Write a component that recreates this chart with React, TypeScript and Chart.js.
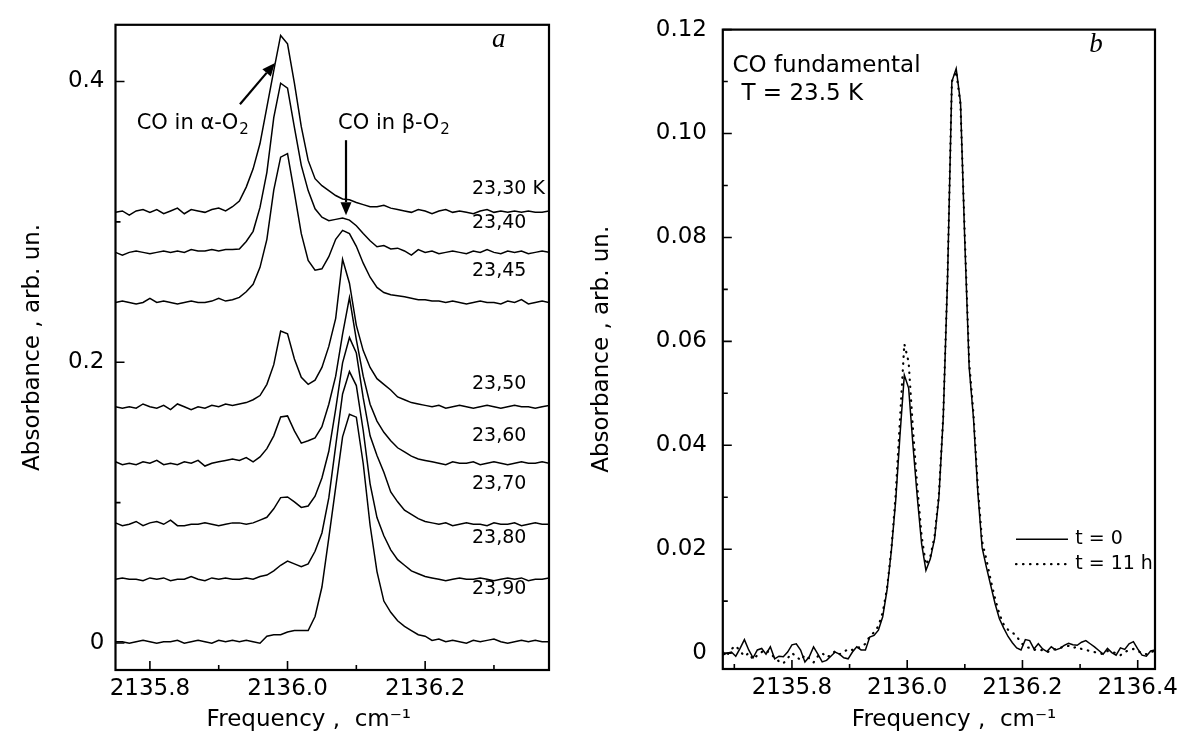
import React, { useEffect, useRef } from 'react';
import { Chart, registerables } from 'chart.js';
Chart.register(...registerables);

const SANS = "'DejaVu Sans', sans-serif";
const SERIF = "'Liberation Serif', 'DejaVu Serif', serif";

// ---------- Panel a : stacked spectra ----------
const freqA = [
  2135.75, 2135.76, 2135.77, 2135.78, 2135.79, 2135.80, 2135.81, 2135.82, 2135.83, 2135.84,
  2135.85, 2135.86, 2135.87, 2135.88, 2135.89, 2135.90, 2135.91, 2135.92, 2135.93, 2135.94,
  2135.95, 2135.96, 2135.97, 2135.98, 2135.99, 2136.00, 2136.01, 2136.02, 2136.03, 2136.04,
  2136.05, 2136.06, 2136.07, 2136.08, 2136.09, 2136.10, 2136.11, 2136.12, 2136.13, 2136.14,
  2136.15, 2136.16, 2136.17, 2136.18, 2136.19, 2136.20, 2136.21, 2136.22, 2136.23, 2136.24,
  2136.25, 2136.26, 2136.27, 2136.28, 2136.29, 2136.30, 2136.31, 2136.32, 2136.33, 2136.34,
  2136.35, 2136.36, 2136.37, 2136.38,
];

const temperatureLabels = ['23,30 K', '23,40', '23,45', '23,50', '23,60', '23,70', '23,80', '23,90'];
const baselineOffsets = [0.3068, 0.2783, 0.2426, 0.1683, 0.1281, 0.0846, 0.0454, 0.0009];
// label anchor heights (absorbance units) for the temperature captions
const temperatureLabelY = [0.3237, 0.2995, 0.2652, 0.1847, 0.1476, 0.1134, 0.0749, 0.0385];

const spec2330 = [
  0.000, 0.001, -0.002, 0.001, 0.002, 0.000, 0.002, -0.001, 0.001, 0.003, -0.001, 0.002, 0.001, 0.000, 0.002, 0.003, 0.001, 0.004,
  0.008, 0.018, 0.031, 0.049, 0.075, 0.101, 0.126, 0.120, 0.092, 0.061, 0.037, 0.024, 0.019, 0.0155, 0.012, 0.0095, 0.009, 0.007, 0.0055, 0.004, 0.004, 0.005, 0.003, 0.002,
  0.001, 0.000, 0.002, 0.001, -0.001, 0.001, 0.002, 0.000, 0.001, 0.000, -0.001, 0.001, 0.002, 0.000, 0.001, 0.000, 0.001, 0.000, 0.001, 0.000, 0.000, 0.001,
];
const spec2340 = [
  0.000, -0.002, 0.000, 0.001, 0.000, -0.001, 0.000, 0.001, 0.000, 0.001, 0.000, 0.002, 0.001, 0.001, 0.002, 0.001, 0.002, 0.002,
  0.0024, 0.0078, 0.015, 0.032, 0.057, 0.096, 0.1205, 0.117, 0.089, 0.062, 0.044, 0.031, 0.025, 0.0226, 0.0235, 0.0245, 0.023, 0.019, 0.0135, 0.0083, 0.004, 0.0048, 0.0024, 0.003,
  0.001, -0.002, 0.002, 0.000, 0.001, -0.001, 0.000, 0.001, 0.000, -0.001, 0.001, 0.000, 0.002, 0.000, -0.001, 0.001, 0.000, 0.001, -0.001, 0.000, 0.001, 0.000,
];
const spec2345 = [
  0.000, 0.001, 0.000, -0.001, 0.000, 0.003, 0.000, 0.001, 0.000, -0.001, 0.000, 0.001, 0.000, 0.000, 0.001, 0.003, 0.001, 0.002,
  0.0036, 0.0076, 0.013, 0.025, 0.045, 0.080, 0.1035, 0.106, 0.078, 0.049, 0.030, 0.023, 0.024, 0.0326, 0.045, 0.0514, 0.049, 0.040, 0.028, 0.018, 0.0107, 0.0071, 0.0055, 0.0048,
  0.004, 0.003, 0.002, 0.002, 0.001, 0.001, 0.000, 0.001, 0.000, -0.001, 0.000, 0.001, 0.000, 0.000, -0.001, 0.001, 0.000, 0.002, -0.001, 0.000, 0.001, 0.000,
];
const spec2350 = [
  0.000, -0.001, 0.000, -0.001, 0.002, 0.000, -0.001, 0.001, -0.002, 0.002, 0.000, -0.002, 0.000, -0.001, 0.001, 0.000, 0.002, 0.001,
  0.002, 0.003, 0.005, 0.008, 0.016, 0.030, 0.054, 0.052, 0.034, 0.021, 0.016, 0.019, 0.028, 0.043, 0.063, 0.105, 0.088, 0.058, 0.040, 0.028, 0.020, 0.016, 0.012, 0.007, 0.005, 0.003, 0.002, 0.001,
  0.000, 0.001, -0.001, 0.000, 0.001, 0.000, -0.001, 0.000, 0.001, 0.000, -0.001, 0.000, 0.001, 0.000, 0.000, -0.001, 0.000, 0.001,
];
const spec2360 = [
  0.001, -0.001, 0.000, -0.001, 0.001, 0.000, 0.002, -0.001, 0.000, -0.001, 0.001, 0.000, 0.002, -0.002, 0.000, 0.001, 0.002, 0.003,
  0.002, 0.004, 0.001, 0.0045, 0.0104, 0.0195, 0.033, 0.0337, 0.023, 0.0143, 0.016, 0.018, 0.026, 0.042, 0.062, 0.092, 0.118, 0.088, 0.062, 0.042, 0.030, 0.022, 0.016, 0.011, 0.008, 0.005, 0.003, 0.002,
  0.001, 0.000, -0.001, 0.001, 0.000, 0.000, 0.001, -0.001, 0.000, 0.001, 0.000, -0.001, 0.000, 0.001, 0.000, 0.000, 0.001, 0.000,
];
const spec2370 = [
  0.001, -0.001, 0.000, 0.002, -0.001, 0.001, 0.002, 0.000, 0.003, -0.001, -0.001, 0.000, 0.000, 0.001, 0.000, -0.001, 0.000, 0.001,
  0.001, 0.000, 0.001, 0.003, 0.005, 0.011, 0.019, 0.0195, 0.016, 0.012, 0.013, 0.020, 0.033, 0.052, 0.082, 0.115, 0.133, 0.122, 0.090, 0.063, 0.049, 0.037, 0.023, 0.016, 0.010, 0.007, 0.004, 0.002,
  0.001, 0.000, 0.001, -0.001, 0.000, 0.001, 0.000, 0.000, -0.001, 0.001, 0.000, 0.000, 0.001, -0.001, 0.000, 0.001, 0.000, 0.000,
];
const spec2380 = [
  0.000, 0.001, 0.000, 0.000, -0.001, 0.001, 0.000, 0.001, -0.001, 0.000, 0.000, 0.002, 0.000, -0.001, 0.001, 0.000, 0.001, 0.000,
  0.000, 0.001, 0.000, 0.002, 0.003, 0.006, 0.010, 0.013, 0.011, 0.009, 0.011, 0.020, 0.033, 0.058, 0.095, 0.132, 0.148, 0.138, 0.106, 0.068, 0.044, 0.031, 0.021, 0.014, 0.010, 0.006, 0.004, 0.002,
  0.001, 0.000, -0.001, 0.000, 0.001, 0.000, 0.000, 0.001, 0.000, -0.001, 0.000, 0.001, 0.000, 0.001, -0.001, 0.000, 0.000, 0.001,
];
const spec2390 = [
  0.000, 0.000, -0.001, 0.000, 0.001, 0.000, -0.001, 0.000, 0.000, 0.001, -0.001, 0.000, 0.001, 0.000, -0.001, 0.001, 0.000, 0.001,
  0.000, 0.001, 0.000, -0.001, 0.004, 0.005, 0.005, 0.007, 0.008, 0.008, 0.008, 0.018, 0.039, 0.074, 0.110, 0.146, 0.162, 0.160, 0.127, 0.083, 0.050, 0.029, 0.021, 0.015, 0.011, 0.008, 0.005, 0.004,
  0.001, 0.002, 0.000, 0.001, 0.000, -0.001, 0.001, 0.000, 0.001, 0.002, 0.000, -0.001, 0.000, 0.001, 0.000, 0.001, 0.000, 0.000,
];
const spectraA = [spec2330, spec2340, spec2345, spec2350, spec2360, spec2370, spec2380, spec2390];

const xMajorA = [2135.8, 2136.0, 2136.2];
const xMajorLabelsA = ['2135.8', '2136.0', '2136.2'];
const xMinorA = [2135.9, 2136.1, 2136.3];
const yMajorA = [0, 0.2, 0.4];
const yMajorLabelsA = ['0', '0.2', '0.4'];
const yMinorA = [0.1, 0.3];

// ---------- Panel b : two measurements ----------
const freqB = [
  2135.6800, 2135.6875, 2135.6950, 2135.7025, 2135.7100, 2135.7175, 2135.7250, 2135.7325, 2135.7400, 2135.7475,
  2135.7550, 2135.7625, 2135.7700, 2135.7775, 2135.7850, 2135.7925, 2135.8000, 2135.8075, 2135.8150, 2135.8225,
  2135.8300, 2135.8375, 2135.8450, 2135.8525, 2135.8600, 2135.8675, 2135.8750, 2135.8825, 2135.8900, 2135.8975,
  2135.9050, 2135.9125, 2135.9200, 2135.9275, 2135.9350, 2135.9425, 2135.9500, 2135.9575, 2135.9650, 2135.9725,
  2135.9800, 2135.9875, 2135.9950, 2136.0025, 2136.0100, 2136.0175, 2136.0250, 2136.0325, 2136.0400, 2136.0475,
  2136.0550, 2136.0625, 2136.0700, 2136.0775, 2136.0850, 2136.0925, 2136.1000, 2136.1075, 2136.1150, 2136.1225,
  2136.1300, 2136.1375, 2136.1450, 2136.1525, 2136.1600, 2136.1675, 2136.1750, 2136.1825, 2136.1900, 2136.1975,
  2136.2050, 2136.2125, 2136.2200, 2136.2275, 2136.2350, 2136.2425, 2136.2500, 2136.2575, 2136.2650, 2136.2725,
  2136.2800, 2136.2875, 2136.2950, 2136.3025, 2136.3100, 2136.3175, 2136.3250, 2136.3325, 2136.3400, 2136.3475,
  2136.3550, 2136.3625, 2136.3700, 2136.3775, 2136.3850, 2136.3925, 2136.4000, 2136.4075, 2136.4150, 2136.4225,
  2136.4300,
];
const absT0 = [
  -0.0004, 0.0000, 0.0002, -0.0006, 0.0009, 0.0026, 0.0006, -0.0009, 0.0006, 0.0009,
  -0.0002, 0.0012, -0.0011, -0.0006, -0.0007, 0.0002, 0.0016, 0.0018, 0.0006, -0.0017,
  -0.0007, 0.0012, -0.0002, -0.0017, -0.0014, -0.0006, 0.0002, -0.0002, -0.0009, -0.0011,
  0.0002, 0.0012, 0.0006, 0.0006, 0.0031, 0.0034, 0.0044, 0.0070, 0.0121, 0.0197,
  0.0293, 0.0420, 0.0535, 0.0510, 0.0400, 0.0300, 0.0210, 0.0159, 0.0181, 0.0220,
  0.0300, 0.0452, 0.0720, 0.1100, 0.1125, 0.1060, 0.0790, 0.0550, 0.0452, 0.0310,
  0.0203, 0.0165, 0.0130, 0.0095, 0.0066, 0.0048, 0.0032, 0.0020, 0.0010, 0.0006,
  0.0026, 0.0024, 0.0008, 0.0018, 0.0008, 0.0003, 0.0012, 0.0006, 0.0009, 0.0015,
  0.0019, 0.0016, 0.0015, 0.0021, 0.0024, 0.0018, 0.0012, 0.0005, -0.0002, 0.0009,
  0.0001, -0.0004, 0.0010, 0.0007, 0.0018, 0.0022, 0.0008, -0.0004, -0.0006, 0.0004,
  0.0006,
];
const absT11 = [
  0.0002, -0.0004, 0.0008, 0.0014, 0.0004, -0.0006, 0.0000, -0.0012, -0.0004, 0.0002,
  0.0006, -0.0002, -0.0008, -0.0016, -0.0020, -0.0010, 0.0000, -0.0006, -0.0014, -0.0004,
  -0.0010, -0.0018, -0.0006, 0.0000, -0.0008, -0.0004, 0.0004, -0.0002, 0.0002, 0.0008,
  0.0006, 0.0010, 0.0012, 0.0018, 0.0032, 0.0040, 0.0052, 0.0078, 0.0125, 0.0200,
  0.0305, 0.0450, 0.0595, 0.0560, 0.0430, 0.0320, 0.0225, 0.0170, 0.0185, 0.0225,
  0.0305, 0.0455, 0.0725, 0.1100, 0.1120, 0.1055, 0.0800, 0.0560, 0.0460, 0.0320,
  0.0215, 0.0180, 0.0140, 0.0105, 0.0075, 0.0055, 0.0045, 0.0040, 0.0032, 0.0020,
  0.0012, 0.0010, 0.0006, 0.0008, 0.0005, 0.0002, 0.0004, 0.0008, 0.0010, 0.0012,
  0.0014, 0.0010, 0.0012, 0.0008, 0.0006, 0.0004, 0.0002, 0.0000, -0.0002, 0.0004,
  0.0002, 0.0000, -0.0004, 0.0002, 0.0006, 0.0008, 0.0004, 0.0000, -0.0002, 0.0002,
  0.0004,
];
const seriesNamesB = ['t = 0', 't = 11 h'];

const xMajorB = [2135.8, 2136.0, 2136.2, 2136.4];
const xMajorLabelsB = ['2135.8', '2136.0', '2136.2', '2136.4'];
const xMinorB = [2135.7, 2135.9, 2136.1, 2136.3];
const yMajorB = [0, 0.02, 0.04, 0.06, 0.08, 0.10, 0.12];
const yMajorLabelsB = ['0', '0.02', '0.04', '0.06', '0.08', '0.10', '0.12'];
const yMinorB = [0.01, 0.03, 0.05, 0.07, 0.09, 0.11];

// ---------- plugins ----------
const frameTicks = {
  id: 'frameTicks',
  afterDraw(chart: any, _a: any, opts: any) {
    const { ctx, chartArea: a } = chart;
    const xs = chart.scales.x;
    const ys = chart.scales.y;
    ctx.save();
    ctx.strokeStyle = '#000';
    ctx.lineWidth = 1.6;
    ctx.beginPath();
    const xt = (vals: number[], len: number) => vals.forEach((v) => {
      const p = xs.getPixelForValue(v);
      ctx.moveTo(p, a.bottom); ctx.lineTo(p, a.bottom - len);
    });
    const yt = (vals: number[], len: number) => vals.forEach((v) => {
      const p = ys.getPixelForValue(v);
      ctx.moveTo(a.left, p); ctx.lineTo(a.left + len, p);
    });
    xt(opts.xMajor, 9); xt(opts.xMinor, 5);
    yt(opts.yMajor, 9); yt(opts.yMinor, 5);
    ctx.stroke();
    ctx.lineWidth = 2.2;
    ctx.strokeRect(a.left, a.top, a.right - a.left, a.bottom - a.top);
    ctx.fillStyle = '#000';
    ctx.font = `23px ${SANS}`;
    ctx.textAlign = 'center';
    ctx.textBaseline = 'middle';
    ctx.fillText('Frequency ,  cm\u207B\u00B9', xs.getPixelForValue(opts.xTitleAt), 720);
    ctx.restore();
  },
};

function arrow(ctx: CanvasRenderingContext2D, x0: number, y0: number, x1: number, y1: number) {
  const ang = Math.atan2(y1 - y0, x1 - x0);
  const hl = 13, hw = 5.5;
  const bx = x1 - hl * Math.cos(ang), by = y1 - hl * Math.sin(ang);
  ctx.beginPath();
  ctx.moveTo(x0, y0); ctx.lineTo(bx, by);
  ctx.lineWidth = 2.2;
  ctx.stroke();
  ctx.beginPath();
  ctx.moveTo(x1, y1);
  ctx.lineTo(bx + hw * Math.sin(ang), by - hw * Math.cos(ang));
  ctx.lineTo(bx - hw * Math.sin(ang), by + hw * Math.cos(ang));
  ctx.closePath();
  ctx.fill();
}

function subText(ctx: CanvasRenderingContext2D, main: string, sub: string, x: number, y: number, size: number) {
  ctx.font = `${size}px ${SANS}`;
  ctx.fillText(main, x, y);
  const w = ctx.measureText(main).width;
  ctx.font = `${Math.round(size * 0.7)}px ${SANS}`;
  ctx.fillText(sub, x + w + 1, y + 5);
}

const annotA = {
  id: 'annotA',
  afterDatasetsDraw(chart: any) {
    const { ctx } = chart;
    const X = (v: number) => chart.scales.x.getPixelForValue(v);
    const Y = (v: number) => chart.scales.y.getPixelForValue(v);
    ctx.save();
    ctx.fillStyle = '#000';
    ctx.strokeStyle = '#000';
    ctx.textAlign = 'left';
    ctx.textBaseline = 'alphabetic';
    subText(ctx, 'CO in \u03B1-O', '2', X(2135.7808), Y(0.3665), 21);
    subText(ctx, 'CO in \u03B2-O', '2', X(2136.0734), Y(0.3665), 21);
    arrow(ctx, X(2135.9309), Y(0.3838), X(2135.9818), Y(0.4132));
    arrow(ctx, X(2136.0850), Y(0.3582), X(2136.0850), Y(0.3048));
    ctx.font = `19px ${SANS}`;
    ctx.textBaseline = 'middle';
    temperatureLabels.forEach((t, i) => {
      ctx.fillText(t, X(2136.2681), Y(temperatureLabelY[i]));
    });
    ctx.font = `italic 27px ${SERIF}`;
    ctx.fillText('a', X(2136.2972), Y(0.4294));
    ctx.restore();
  },
};

const annotB = {
  id: 'annotB',
  afterDatasetsDraw(chart: any) {
    const { ctx } = chart;
    const X = (v: number) => chart.scales.x.getPixelForValue(v);
    const Y = (v: number) => chart.scales.y.getPixelForValue(v);
    ctx.save();
    ctx.fillStyle = '#000';
    ctx.strokeStyle = '#000';
    ctx.textAlign = 'left';
    ctx.textBaseline = 'alphabetic';
    ctx.font = `23px ${SANS}`;
    ctx.fillText('CO fundamental', X(2135.6969), Y(0.1119));
    ctx.fillText('T = 23.5 K', X(2135.7124), Y(0.10654));
    const ds = chart.data.datasets;
    const rows = [0.02189, 0.01712];
    rows.forEach((yv, i) => {
      const d = ds[i];
      ctx.save();
      ctx.lineWidth = d.borderWidth;
      ctx.lineCap = d.borderCapStyle || 'butt';
      ctx.setLineDash(d.borderDash || []);
      ctx.beginPath();
      ctx.moveTo(X(2136.1888), Y(yv));
      ctx.lineTo(X(2136.2790), Y(yv));
      ctx.stroke();
      ctx.restore();
      ctx.font = `19px ${SANS}`;
      ctx.textBaseline = 'middle';
      ctx.fillText(seriesNamesB[i], X(2136.2915), Y(yv));
    });
    ctx.font = `italic 27px ${SERIF}`;
    ctx.textBaseline = 'middle';
    ctx.fillText('b', X(2136.3160), Y(0.117));
    ctx.restore();
  },
};

const tickFont = { family: SANS, size: 23 };

function configA(): any {
  return {
    type: 'line',
    data: {
      datasets: spectraA.map((s, i) => ({
        label: temperatureLabels[i],
        data: freqA.map((f, j) => ({ x: f, y: s[j] + baselineOffsets[i] })),
        borderColor: '#000',
        borderWidth: 1.5,
        pointRadius: 0,
        tension: 0,
        fill: false,
      })),
    },
    options: {
      responsive: false,
      animation: false,
      devicePixelRatio: 1,
      events: [],
      layout: { padding: { top: 24.5, right: 26, bottom: 0, left: 0 } },
      plugins: {
        legend: { display: false },
        tooltip: { enabled: false },
        frameTicks: { xMajor: xMajorA, xMinor: xMinorA, yMajor: yMajorA, yMinor: yMinorA, xTitleAt: 2136.031 },
      },
      scales: {
        x: {
          type: 'linear', min: 2135.75, max: 2136.38,
          afterBuildTicks: (s: any) => { s.ticks = xMajorA.map((v) => ({ value: v })); },
          afterFit: (s: any) => { s.height = 66; },
          grid: { display: false, drawTicks: false },
          border: { display: false },
          ticks: { font: tickFont, color: '#000', padding: 5, maxRotation: 0, autoSkip: false,
            callback: (_v: any, i: number) => xMajorLabelsA[i] },
        },
        y: {
          type: 'linear', min: -0.0192, max: 0.4404,
          afterBuildTicks: (s: any) => { s.ticks = yMajorA.map((v) => ({ value: v })); },
          afterFit: (s: any) => { s.width = 115.5; },
          grid: { display: false, drawTicks: false },
          border: { display: false },
          title: { display: true, text: 'Absorbance , arb. un.', color: '#000', font: { family: SANS, size: 23 }, padding: { top: 19, bottom: 0 } },
          ticks: { font: tickFont, color: '#000', padding: 11, autoSkip: false,
            callback: (_v: any, i: number) => yMajorLabelsA[i] },
        },
      },
    },
    plugins: [frameTicks, annotA],
  };
}

function configB(): any {
  return {
    type: 'line',
    data: {
      datasets: [
        {
          label: seriesNamesB[0],
          data: freqB.map((f, j) => ({ x: f, y: absT0[j] })),
          borderColor: '#000', borderWidth: 1.5, pointRadius: 0, tension: 0, fill: false,
        },
        {
          label: seriesNamesB[1],
          data: freqB.map((f, j) => ({ x: f, y: absT11[j] })),
          borderColor: '#000', borderWidth: 2.2, borderDash: [0.5, 6.5], borderCapStyle: 'round',
          pointRadius: 0, tension: 0, fill: false,
        },
      ],
    },
    options: {
      responsive: false,
      animation: false,
      devicePixelRatio: 1,
      events: [],
      layout: { padding: { top: 24.5, right: 38, bottom: 0, left: 0 } },
      plugins: {
        legend: { display: false },
        tooltip: { enabled: false },
        frameTicks: { xMajor: xMajorB, xMinor: xMinorB, yMajor: yMajorB, yMinor: yMinorB, xTitleAt: 2136.0813 },
      },
      scales: {
        x: {
          type: 'linear', min: 2135.68, max: 2136.43,
          afterBuildTicks: (s: any) => { s.ticks = xMajorB.map((v) => ({ value: v })); },
          afterFit: (s: any) => { s.height = 67; },
          grid: { display: false, drawTicks: false },
          border: { display: false },
          ticks: { font: tickFont, color: '#000', padding: 5, maxRotation: 0, autoSkip: false,
            callback: (_v: any, i: number) => xMajorLabelsB[i] },
        },
        y: {
          type: 'linear', min: -0.00306, max: 0.12,
          afterBuildTicks: (s: any) => { s.ticks = yMajorB.map((v) => ({ value: v })); },
          afterFit: (s: any) => { s.width = 147.8; },
          grid: { display: false, drawTicks: false },
          border: { display: false },
          title: { display: true, text: 'Absorbance , arb. un.', color: '#000', font: { family: SANS, size: 23 }, padding: { top: 13.2, bottom: 0 } },
          ticks: { font: tickFont, color: '#000', padding: 15.8, autoSkip: false,
            callback: (_v: any, i: number) => yMajorLabelsB[i] },
        },
      },
    },
    plugins: [frameTicks, annotB],
  };
}

export default function App() {
  const refA = useRef<HTMLCanvasElement>(null);
  const refB = useRef<HTMLCanvasElement>(null);
  useEffect(() => {
    const ca = new Chart(refA.current as HTMLCanvasElement, configA());
    const cb = new Chart(refB.current as HTMLCanvasElement, configB());
    return () => { ca.destroy(); cb.destroy(); };
  }, []);
  return (
    <div style={{ position: 'fixed', left: 0, top: 0, width: 1193, height: 736, background: '#fff', overflow: 'hidden' }}>
      <canvas ref={refA} width={575} height={736} style={{ position: 'absolute', left: 0, top: 0, width: 575, height: 736 }} />
      <canvas ref={refB} width={618} height={736} style={{ position: 'absolute', left: 575, top: 0, width: 618, height: 736 }} />
    </div>
  );
}
